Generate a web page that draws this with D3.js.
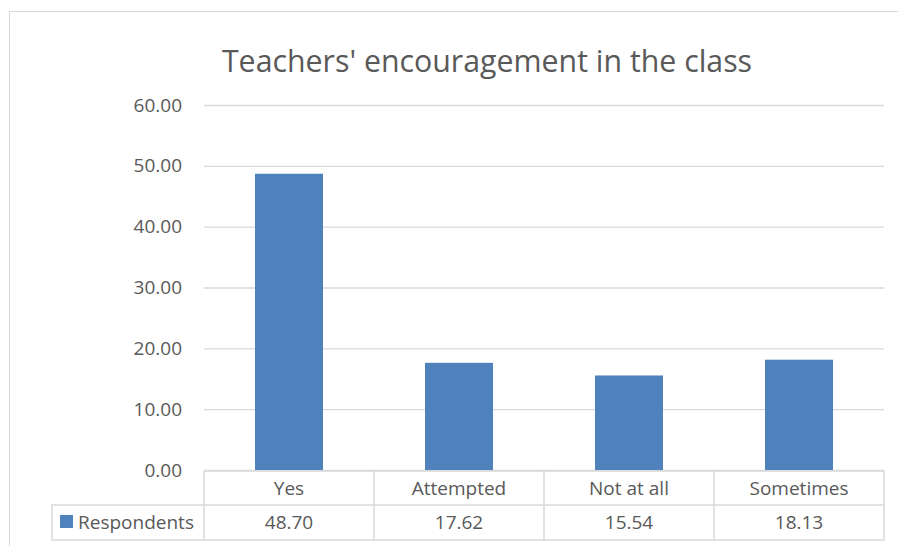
<!DOCTYPE html>
<html>
<head>
<meta charset="utf-8">
<script src="https://cdn.jsdelivr.net/npm/d3@7"></script>
<style>
  body { margin: 0; background: #fff; }
  svg { display: block; font-family: "Open Sans", Lato, sans-serif; }
</style>
</head>
<body>
<svg></svg>
<script>
const width = 898;
const height = 546;
const svg = d3.select("svg").attr("width", width).attr("height", height);

const categories = ["Yes", "Attempted", "Not at all", "Sometimes"];
const respondents = [48.70, 17.62, 15.54, 18.13];
const yTicks = [0, 10, 20, 30, 40, 50, 60];
const seriesName = "Respondents";
const title = "Teachers' encouragement in the class";

const textColor = "#595959";
const gridColor = "#d9d9d9";
const barColor = "#4f81bd";
const fontSize = 19;

// chart frame
svg.append("rect")
  .attr("x", 9.5).attr("y", 11.5)
  .attr("width", 920).attr("height", 560)
  .attr("fill", "none")
  .attr("stroke", gridColor);

const plot = {left: 204, right: 884, top: 105, bottom: 470};

const x = d3.scaleBand()
  .domain(categories)
  .range([plot.left, plot.right])
  .paddingInner(0.6)
  .paddingOuter(0.3);

const cell = d3.scaleBand()
  .domain(categories)
  .range([plot.left, plot.right]);

const y = d3.scaleLinear()
  .domain([0, 60])
  .range([plot.bottom, plot.top]);

// title
svg.append("text")
  .attr("x", 487).attr("y", 72)
  .attr("text-anchor", "middle")
  .attr("font-size", 30.3)
  .attr("fill", textColor)
  .text(title);

// gridlines + y labels
const yAxis = d3.axisLeft(y)
  .tickValues(yTicks)
  .tickSize(-(plot.right - plot.left))
  .tickPadding(22)
  .tickFormat(d3.format(".2f"));

const ga = svg.append("g")
  .attr("transform", `translate(${plot.left},0)`)
  .call(yAxis);
ga.select(".domain").remove();
ga.selectAll(".tick line").attr("stroke", gridColor).attr("stroke-width", 1.3);
ga.selectAll(".tick text")
  .attr("fill", textColor)
  .attr("font-size", fontSize)
  .attr("font-family", "'Open Sans', Lato, sans-serif");

// bars
svg.append("g")
  .selectAll("rect")
  .data(respondents)
  .join("rect")
  .attr("x", (d, i) => x(categories[i]))
  .attr("width", x.bandwidth())
  .attr("y", d => y(d))
  .attr("height", d => y(0) - y(d))
  .attr("fill", barColor);

// data table
const rowTop = 471, rowMid = 505, rowBot = 540, legLeft = 52;
const tbl = svg.append("g")
  .attr("stroke", gridColor)
  .attr("stroke-width", 1.5)
  .attr("fill", "none");

tbl.append("path").attr("d",
  `M${plot.left},${rowTop}H${plot.right}V${rowBot}H${legLeft}V${rowMid}H${plot.right}`
  + `M${legLeft},${rowMid}V${rowBot}`);
categories.forEach(c => {
  tbl.append("line")
    .attr("x1", cell(c)).attr("x2", cell(c))
    .attr("y1", rowTop).attr("y2", rowBot);
});

const cellText = svg.append("g")
  .attr("fill", textColor)
  .attr("font-size", fontSize)
  .attr("text-anchor", "middle");

cellText.selectAll("text.cat")
  .data(categories)
  .join("text")
  .attr("class", "cat")
  .attr("x", d => cell(d) + cell.bandwidth() / 2)
  .attr("y", 495)
  .text(d => d);

cellText.selectAll("text.val")
  .data(respondents)
  .join("text")
  .attr("class", "val")
  .attr("x", (d, i) => cell(categories[i]) + cell.bandwidth() / 2)
  .attr("y", 529)
  .text(d => d3.format(".2f")(d));

// legend key
svg.append("rect")
  .attr("x", 60).attr("y", 515)
  .attr("width", 13).attr("height", 13)
  .attr("fill", barColor);
svg.append("text")
  .attr("x", 78).attr("y", 529)
  .attr("fill", textColor)
  .attr("font-size", fontSize)
  .text(seriesName);
</script>
</body>
</html>
